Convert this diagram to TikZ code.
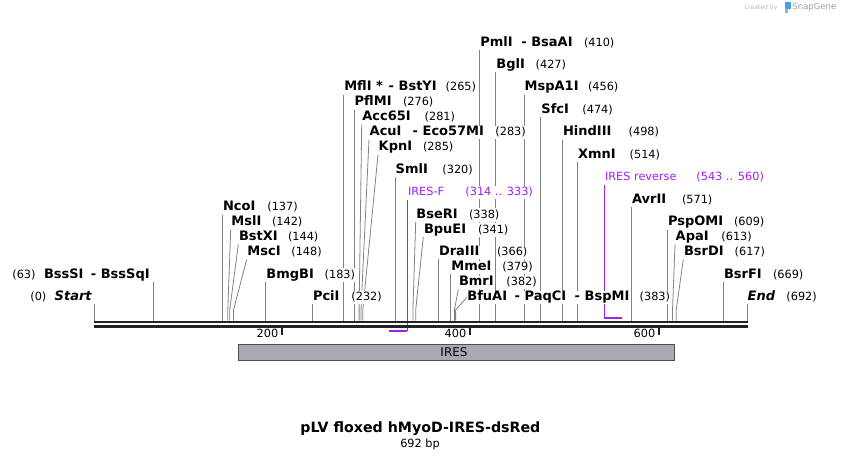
\documentclass[tikz,border=0pt]{standalone}
\usepackage{fontspec}
\setmainfont{DejaVu Sans}
\usetikzlibrary{backgrounds}
\definecolor{primerc}{RGB}{160,32,240}
\definecolor{sitegray}{RGB}{130,130,130}
\definecolor{bbcol}{RGB}{34,34,34}
\definecolor{featfill}{RGB}{166,171,179}
\definecolor{featdraw}{RGB}{78,78,78}
\definecolor{sgblue}{RGB}{70,160,230}
\newcommand\lab[5]{\node[#1] (#2) at ({#3-1},{#4+4}) {#5};}
\newcommand\sitev[1]{\draw[siteline] (#1.south west) -- (#1.south west |- bbtop);}
\newcommand\sitek[2]{\draw[siteline] (#1.south west) -- (#2) -- (#2 |- bbtop);}
\begin{document}
\begin{tikzpicture}[x=1pt,y=-1pt,
  nm/.style={anchor=base west, font=\fontsize{13}{15}\selectfont\bfseries, fill=white, inner sep=0.5pt, text height=9.5pt, text depth=3pt},
  nmi/.style={nm, font=\fontsize{13}{15}\selectfont\bfseries\itshape},
  numst/.style={anchor=base west, font=\fontsize{11.3}{13}\selectfont, fill=white, inner sep=0.5pt, text height=9.5pt, text depth=3pt},
  prim/.style={numst, text=primerc},
  siteline/.style={draw=sitegray, line width=0.8pt},
  primline/.style={draw=primerc, line width=1pt},
  primbar/.style={draw=primerc, line width=2pt},
  bbline/.style={draw=bbcol, line width=2.7pt},
  tickline/.style={draw=bbcol, line width=1.8pt},
  rul/.style={anchor=base east, font=\fontsize{11.3}{13}\selectfont, inner sep=0.5pt}]
\useasboundingbox (0,0) rectangle (842,460);
\coordinate (bbtop) at (0,320.6);

% ---- labels: left side ----
\lab{numst}{n0}{30.7}{296.7}{(0)}
\lab{nmi}{Start}{55}{296.7}{Start}
\lab{numst}{n63}{12.7}{274.2}{(63)}
\lab{nm}{BssSI}{44.3}{274.2}{BssSI}
\lab{nm}{BssSqI}{91.2}{274.2}{- BssSqI}
\lab{nm}{NcoI}{223.3}{206.8}{NcoI}
\lab{numst}{n137}{267.7}{206.8}{(137)}
\lab{nm}{MslI}{231.7}{221.8}{MslI}
\lab{numst}{n142}{272.3}{221.8}{(142)}
\lab{nm}{BstXI}{239.3}{236.7}{BstXI}
\lab{numst}{n144}{288.3}{236.7}{(144)}
\lab{nm}{MscI}{247.7}{251.7}{MscI}
\lab{numst}{n148}{291.7}{251.7}{(148)}
\lab{nm}{BmgBI}{266.7}{274.2}{BmgBI}
\lab{numst}{n183}{325}{274.2}{(183)}
\lab{nm}{PciI}{313.3}{296.7}{PciI}
\lab{numst}{n232}{351.7}{296.7}{(232)}
\lab{nm}{MflI}{344.6}{86.9}{MflI *}
\lab{nm}{BstYI}{389}{86.9}{- BstYI}
\lab{numst}{n265}{446}{86.9}{(265)}
\lab{nm}{PflMI}{355}{101.9}{PflMI}
\lab{numst}{n276}{403.3}{101.9}{(276)}
\lab{nm}{AccI}{362.7}{116.9}{Acc65I}
\lab{numst}{n281}{425}{116.9}{(281)}
\lab{nm}{AcuI}{370}{131.9}{AcuI}
\lab{nm}{EcoMI}{413}{131.9}{- Eco57MI}
\lab{numst}{n283}{495.7}{131.9}{(283)}
\lab{nm}{KpnI}{379}{146.9}{KpnI}
\lab{numst}{n285}{423.3}{146.9}{(285)}
\lab{nm}{SmlI}{396}{169.3}{SmlI}
\lab{numst}{n320}{442.7}{169.3}{(320)}
\lab{prim}{IRESF}{408.3}{191.8}{IRES-F}
\lab{prim}{n314}{465.7}{191.8}{(314 .. 333)}
\lab{nm}{BseRI}{416.7}{214.0}{BseRI}
\lab{numst}{n338}{469.3}{214.0}{(338)}
\lab{nm}{BpuEI}{424.3}{229.0}{BpuEI}
\lab{numst}{n341}{478.3}{229.0}{(341)}
\lab{nm}{DraIII}{439.3}{251.7}{DraIII}
\lab{numst}{n366}{497.3}{251.7}{(366)}
\lab{nm}{MmeI}{451.7}{266.7}{MmeI}
\lab{numst}{n379}{502.7}{266.7}{(379)}
\lab{nm}{BmrI}{459.3}{281.7}{BmrI}
\lab{numst}{n382}{506.7}{281.7}{(382)}
\lab{nm}{BfuAI}{467.7}{296.7}{BfuAI}
\lab{nm}{PaqCI}{515}{296.7}{- PaqCI}
\lab{nm}{BspMI}{575}{296.7}{- BspMI}
\lab{numst}{n383}{640}{296.7}{(383)}
% ---- labels: right side ----
\lab{nm}{PmlI}{480.7}{42}{PmlI}
\lab{nm}{BsaAI}{521.7}{42}{- BsaAI}
\lab{numst}{n410}{584.3}{42}{(410)}
\lab{nm}{BglI}{496.7}{64.5}{BglI}
\lab{numst}{n427}{536}{64.5}{(427)}
\lab{nm}{MspAI}{525}{86.9}{MspA1I}
\lab{numst}{n456}{588.3}{86.9}{(456)}
\lab{nm}{SfcI}{541.7}{109.4}{SfcI}
\lab{numst}{n474}{582.7}{109.4}{(474)}
\lab{nm}{HindIII}{563.3}{131.9}{HindIII}
\lab{numst}{n498}{629}{131.9}{(498)}
\lab{nm}{XmnI}{578.3}{154.4}{XmnI}
\lab{numst}{n514}{630}{154.4}{(514)}
\lab{prim}{IRESR}{605.3}{176.8}{IRES reverse}
\lab{prim}{n543}{696.7}{176.8}{(543 .. 560)}
\lab{nm}{AvrII}{632.3}{199.3}{AvrII}
\lab{numst}{n571}{682.3}{199.3}{(571)}
\lab{nm}{PspOMI}{668.3}{221.8}{PspOMI}
\lab{numst}{n609}{734.3}{221.8}{(609)}
\lab{nm}{ApaI}{676}{236.7}{ApaI}
\lab{numst}{n613}{721.7}{236.7}{(613)}
\lab{nm}{BsrDI}{684.3}{251.7}{BsrDI}
\lab{numst}{n617}{735}{251.7}{(617)}
\lab{nm}{BsrFI}{724.3}{274.2}{BsrFI}
\lab{numst}{n669}{773.3}{274.2}{(669)}
\lab{nmi}{End}{748}{296.7}{End}
\lab{numst}{n692}{786.7}{296.7}{(692)}

% ---- connectors, backbone (behind labels) ----
\begin{pgfonlayer}{background}
\coordinate (sStart) at (94,304.2);
\coordinate (sBssSI) at (153.3,281.7);
\draw[siteline] (sStart) -- (sStart |- bbtop);
\draw[siteline] (sBssSI) -- (sBssSI |- bbtop);
\coordinate (kMslI) at (227.8,310);
\coordinate (kBstXI) at (229.7,310);
\coordinate (kMscI) at (233.5,310);
\coordinate (kAcc) at (359.1,310);
\coordinate (kAcuI) at (361,310);
\coordinate (kKpnI) at (362.8,310);
\coordinate (kBseRI) at (412.9,310);
\coordinate (kBpuEI) at (415.7,310);
\coordinate (kBmrI) at (454.4,310);
\coordinate (kBfuAI) at (455.6,310);
\coordinate (kApaI) at (672.5,310);
\coordinate (kBsrDI) at (676.2,310);
\sitev{NcoI}
\sitek{MslI}{kMslI}
\sitek{BstXI}{kBstXI}
\sitek{MscI}{kMscI}
\sitev{BmgBI}
\sitev{PciI}
\sitev{MflI}
\sitev{PflMI}
\sitek{AccI}{kAcc}
\sitek{AcuI}{kAcuI}
\sitek{KpnI}{kKpnI}
\sitev{SmlI}
\sitek{BseRI}{kBseRI}
\sitek{BpuEI}{kBpuEI}
\sitev{DraIII}
\sitev{MmeI}
\sitek{BmrI}{kBmrI}
\draw[siteline] (BfuAI.west) -- (kBfuAI) -- (kBfuAI |- bbtop);
\sitev{PmlI}
\sitev{BglI}
\sitev{MspAI}
\sitev{SfcI}
\sitev{HindIII}
\sitev{XmnI}
\sitev{AvrII}
\sitev{PspOMI}
\sitek{ApaI}{kApaI}
\sitek{BsrDI}{kBsrDI}
\sitev{BsrFI}
\sitev{End}
% primers
\coordinate (fL) at (389,331);
\coordinate (rR) at (621.5,318);
\draw[primline] (IRESF.south west) -- (IRESF.south west |- fL);
\draw[primbar] (fL) -- (fL -| IRESF.south west);
\draw[primline] (IRESR.south west) -- (IRESR.south west |- rR);
\draw[primbar] (IRESR.south west |- rR) -- (rR);
% backbone
\draw[bbline] (94,322) -- (748,322);
\draw[bbline] (94,326.4) -- (748,326.4);
\end{pgfonlayer}

% ruler
\draw[tickline] (282,327.6) -- (282,335);
\draw[tickline] (470,327.6) -- (470,335);
\draw[tickline] (659,327.6) -- (659,335);
\node[rul] (r200) at (279,337.5) {200};
\node[rul] (r400) at (467,337.5) {400};
\node[rul] (r600) at (656,337.5) {600};

% feature
\node[draw=featdraw, fill=featfill, line width=0.8pt, minimum width=436pt, minimum height=16pt, inner sep=0pt, anchor=north west] (IRESbox) at (238,344) {};
\node[font=\fontsize{12}{14}\selectfont, inner sep=0pt] (IRESlbl) at (454,352) {IRES};

% title
\node[font=\fontsize{14.2}{17}\selectfont\bfseries, inner sep=0pt] (title) at (420.4,429) {pLV floxed hMyoD-IRES-dsRed};
\node[font=\fontsize{11.3}{13}\selectfont, inner sep=0pt] (bp) at (420,444) {692 bp};

% created by
\node[font=\fontsize{8.5}{10}\selectfont, text=gray!75, anchor=east, inner sep=0pt] (sg) at (836.5,7.5) {SnapGene};
\node[font=\fontsize{6}{7}\selectfont, text=gray!55, anchor=east, inner sep=0pt] (cb) at (777.5,7.5) {Created by};
\fill[sgblue] (784.5,1.8) rectangle (790.5,9);
\fill[sgblue!70] (784.5,9) rectangle (787.5,13.3);
\end{tikzpicture}
\end{document}
